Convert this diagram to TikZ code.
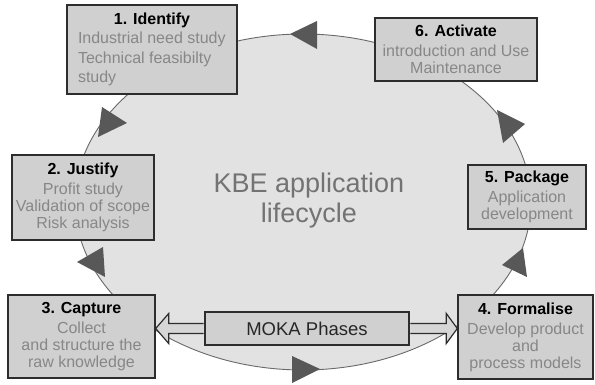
\documentclass[tikz,border=0pt]{standalone}
\usepackage{fontspec}
\setmainfont{Liberation Sans}
\usetikzlibrary{calc}
\definecolor{ellfill}{RGB}{226,226,226}
\definecolor{ellline}{RGB}{105,105,105}
\definecolor{boxfill}{RGB}{208,208,208}
\definecolor{boxline}{RGB}{45,45,45}
\definecolor{subtext}{RGB}{135,135,135}
\definecolor{headfill}{RGB}{88,88,88}
\definecolor{bigtext}{RGB}{115,115,115}
\definecolor{arrowfill}{RGB}{214,214,214}
\tikzset{
  phase/.style={draw=boxline, line width=1.4pt, fill=boxfill, inner sep=0pt,
    align=center, text=subtext, font=\fontsize{16}{17}\selectfont},
  hollow/.style={draw=boxline, line width=1.2pt, fill=arrowfill, line join=miter},
  cyclehead/.style={fill=headfill},
  lifecycle/.style={draw=ellline, line width=0.9pt, fill=ellfill}
}
\newcommand{\phasetitle}[1]{{\color{black}\bfseries #1}}
\begin{document}
\begin{tikzpicture}[x=1pt, y=-1pt]
  \useasboundingbox (0,0) rectangle (595,385);
  \fill[white] (0,0) rectangle (595,385);

  % the lifecycle loop
  \draw[lifecycle] (303,202) ellipse [x radius=228pt, y radius=168pt];
  \node[text=bigtext, font=\fontsize{27}{30}\selectfont, align=center] (kbe) at (309,201)
    {KBE application\\lifecycle};

  % arrowheads along the loop
  \fill[cyclehead] (290,34) -- (317,21) -- (317,49) -- cycle;
  \fill[cyclehead] (102,107) -- (127,123) -- (98,137) -- cycle;
  \fill[cyclehead] (103,247) -- (77,262) -- (105,277) -- cycle;
  \fill[cyclehead] (292,356) -- (320,369) -- (292,383) -- cycle;
  \fill[cyclehead] (523,248) -- (502,265) -- (527,277) -- cycle;
  \fill[cyclehead] (497,110) -- (525,124) -- (503,143) -- cycle;

  % phase boxes
  \node[phase, minimum width=170, minimum height=89, align=left,
        font=\fontsize{16}{19.5}\selectfont] (identify) at (152,49.5)
    {\makebox[148pt]{\phasetitle{1. Identify}}\\Industrial need study\\Technical feasibilty\\study};
  \node[phase, minimum width=142, minimum height=85] (justify) at (83,197.5)
    {\phasetitle{2. Justify}\\[3pt]Profit study\\Validation of scope\\Risk analysis};
  \node[phase, minimum width=147, minimum height=83] (capture) at (81.5,336.5)
    {\phasetitle{3. Capture}\\[3pt]Collect\\and structure the\\raw knowledge};
  \node[phase, minimum width=135, minimum height=84] (formalise) at (525.5,337)
    {\phasetitle{4. Formalise}\\[3pt]Develop product\\and\\process models};
  \node[phase, minimum width=118, minimum height=64] (package) at (527,197)
    {\phasetitle{5. Package}\\[3pt]Application\\development};
  \node[phase, minimum width=162, minimum height=63] (activate) at (456,49.5)
    {\phasetitle{6. Activate}\\[3pt]introduction and Use\\Maintenance};
  \node[phase, minimum width=204, minimum height=33, text=black!85,
        font=\fontsize{18.5}{20}\selectfont] (moka) at (307,328.5) {MOKA Phases};

  % double-headed link from the MOKA box to phases 3 and 4
  \coordinate (ltip) at (capture.east |- moka.west);
  \coordinate (rtip) at (formalise.west |- moka.east);
  \draw[hollow] ($(moka.west)+(-0.7,-5)$) -- ($(ltip)+(13,-5)$) -- ($(ltip)+(13,-15)$)
    -- (ltip) -- ($(ltip)+(13,15)$) -- ($(ltip)+(13,5)$) -- ($(moka.west)+(-0.7,5)$);
  \draw[hollow] ($(moka.east)+(0.7,-5)$) -- ($(rtip)+(-11,-5)$) -- ($(rtip)+(-11,-15)$)
    -- (rtip) -- ($(rtip)+(-11,15)$) -- ($(rtip)+(-11,5)$) -- ($(moka.east)+(0.7,5)$);
\end{tikzpicture}
\end{document}
